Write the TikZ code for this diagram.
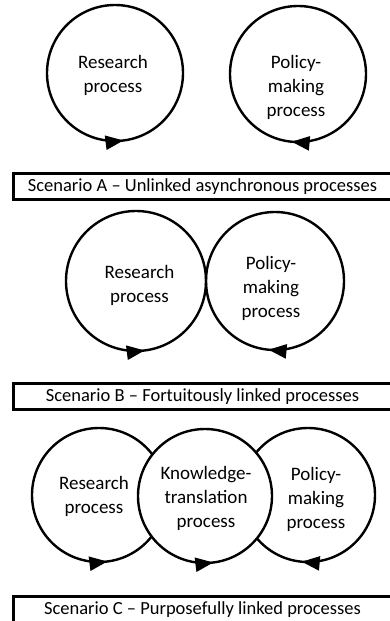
\documentclass[tikz,border=0pt]{standalone}
\usepackage{fontspec}
\setmainfont{Carlito}
\usetikzlibrary{arrows.meta, decorations.markings}

\begin{document}
\begin{tikzpicture}[
    % GLOBAL CFG
    x=1pt, y=-1pt,
    % Styles
    proc/.style={% One process cycle, #1 is the radius
        circle,
        draw,
        line width=2.4pt,
        minimum size=2*#1,
        inner sep=0pt,
        },
    goright/.style={% Cycle arrow pointing right at the bottom
        postaction={decorate},
        decoration={markings,
            mark=at position 0.77 with {\arrow{Triangle[length=18pt,width=14pt]}}},
        },
    goleft/.style={% Cycle arrow pointing left at the bottom
        postaction={decorate},
        decoration={markings,
            mark=at position 0.735 with {\arrowreversed{Triangle[length=18pt,width=14pt]}}},
        },
    lbl/.style={% Text inside the cycles
        align=center,
        anchor=north,
        inner sep=0pt,
        font=\fontsize{19}{24}\selectfont,
        },
    scen/.style={% Scenario caption box
        rectangle,
        draw,
        line width=3pt,
        minimum width=379pt,
        minimum height=26pt,
        inner sep=0pt,
        font=\fontsize{18.5}{22}\selectfont,
        },
    ]

    \useasboundingbox (0,0) rectangle (390,621);
    \clip (0,0) rectangle (390,621);

    % Scenario A: two separate cycles
    \node [proc=68, goright] (resA) at (115,73) {};
    \node [proc=68, goleft] (polA) at (298,74) {};
    \node [lbl] (resAtxt) at (113,55) {Research\\process};
    \node [lbl] (polAtxt) at (296,55) {Policy-\\making\\process};
    \node [scen] (scenA) at (202.5,186.5) {Scenario A -- Unlinked asynchronous processes};

    % Scenario B: the two cycles touch
    \node [proc=70, goright] (resB) at (136,281) {};
    \node [proc=69, goleft] (polB) at (275,281) {};
    \node [lbl] (resBtxt) at (139.5,265) {Research\\process};
    \node [lbl] (polBtxt) at (271,256) {Policy-\\making\\process};
    \node [scen] (scenB) at (202.5,396.5) {Scenario B -- Fortuitously linked processes};

    % Scenario C: knowledge translation sits on top of both
    \node [proc=67, goright] (resC) at (99,495) {};
    \node [proc=67, goleft] (polC) at (308,495) {};
    \node [proc=67, goright, fill=white] (ktC) at (205,496) {};
    \node [lbl] (resCtxt) at (94,476) {Research\\process};
    \node [lbl] (ktCtxt) at (206,466) {Knowledge-\\translation\\process};
    \node [lbl] (polCtxt) at (316,467) {Policy-\\making\\process};
    \node [scen] (scenC) at (202.5,609.5) {Scenario C -- Purposefully linked processes};

\end{tikzpicture}
\end{document}
